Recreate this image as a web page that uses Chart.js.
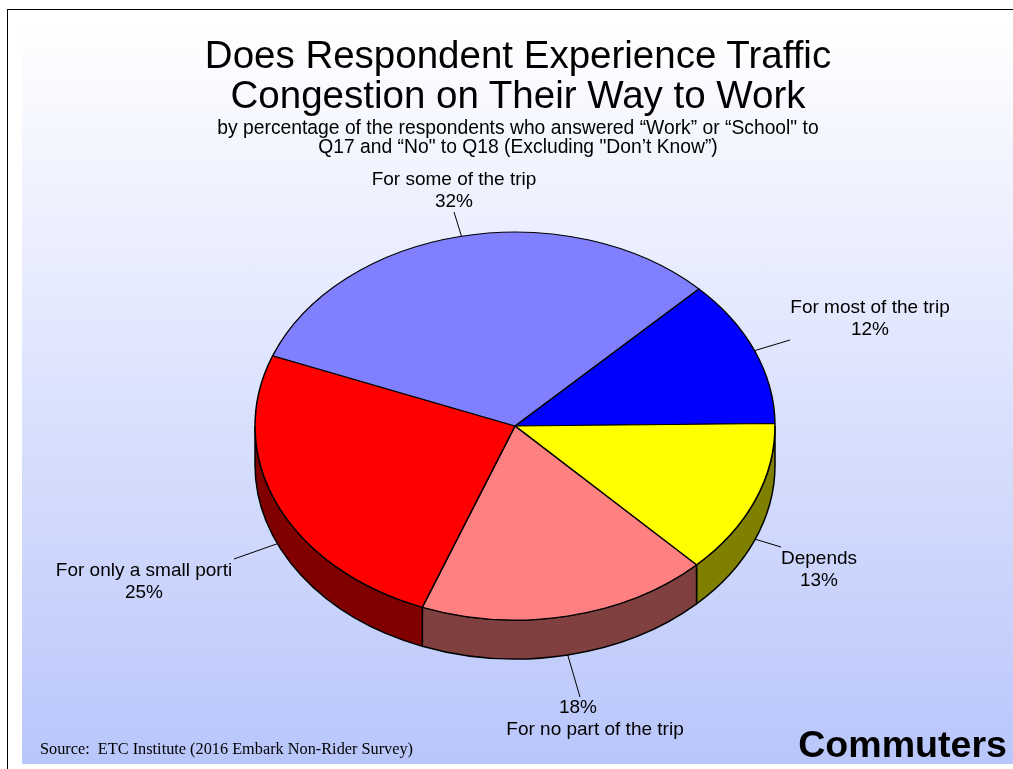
<!DOCTYPE html>
<html>
<head>
<meta charset="utf-8">
<script src="https://cdn.jsdelivr.net/npm/chart.js@4"></script>
<style>
  html, body { margin: 0; background: #fff; overflow: hidden; }
  body { width: 1013px; height: 769px; position: relative; font-family: "Liberation Sans", Arial, sans-serif; color: #000; }
  #frame { position: absolute; left: 7px; top: 9px; width: 1006px; height: 760px; border-left: 1px solid #000; border-top: 1px solid #000; box-sizing: border-box; }
  #bg { position: absolute; left: 22px; top: 25px; width: 991px; height: 739px; background: linear-gradient(#ffffff, #b9c6fb); }
  #chart { position: absolute; left: 0; top: 0; }
  .t { position: absolute; text-align: center; white-space: pre; }
  #title { left: 18px; width: 1000px; top: 35px; font-size: 38.5px; line-height: 40px; }
  #subtitle { left: 18px; width: 1000px; top: 118px; font-size: 19.3px; line-height: 19px; }
  #source { left: 40px; top: 740px; font-family: "Liberation Serif", serif; font-size: 16.3px; line-height: 18px; }
  #group { right: 6px; top: 722px; font-size: 37.6px; font-weight: bold; line-height: 44px; }
</style>
</head>
<body>
<div id="frame"></div>
<div id="bg"></div>
<canvas id="chart" width="1013" height="769"></canvas>
<div class="t" id="title"></div>
<div class="t" id="subtitle"></div>
<div class="t" id="source"></div>
<div class="t" id="group"></div>
<script>
const titleLines = ["Does Respondent Experience Traffic", "Congestion on Their Way to Work"];
const subtitleLines = ["by percentage of the respondents who answered “Work” or “School\" to", "Q17 and “No\" to Q18 (Excluding \"Don’t Know”)"];
const sourceText = "Source:  ETC Institute (2016 Embark Non-Rider Survey)";
const groupText = "Commuters";

const categories = ["For most of the trip", "Depends", "For no part of the trip", "For only a small porti", "For some of the trip"];
// read from the slice edges, labels show them rounded
const values = [12.3, 12.9, 18.1, 25.1, 31.6];
const sliceColors = ["#0000ff", "#ffff00", "#ff8080", "#ff0000", "#8080ff"];
const wallColors = ["#000080", "#808000", "#804040", "#800000", "#404080"];

// leader line end + where the two text lines sit
const labelStyle = [
  { end: [790, 340], x: 870, y: 308, percentFirst: false },
  { end: [781, 547], x: 819, y: 559, percentFirst: false },
  { end: [580, 697], x: 578, y: 708, xBottom: 595, percentFirst: true },
  { end: [234, 559], x: 144, y: 571, percentFirst: false },
  { end: [454, 212], x: 454, y: 180, percentFirst: false },
];

const squash = 0.746;
const depth = 39;

document.getElementById("title").innerHTML = titleLines.join("<br>");
document.getElementById("subtitle").innerHTML = subtitleLines.join("<br>");
document.getElementById("source").textContent = sourceText;
document.getElementById("group").textContent = groupText;

const tiltPie = {
  id: "tiltPie",
  beforeDatasetsDraw(chart) {
    const ctx = chart.ctx;
    const arcs = chart.getDatasetMeta(0).data;
    arcs.forEach((arc, i) => {
      const p = arc.getProps(["x", "y", "startAngle", "endAngle", "outerRadius"], true);
      // only the part of the rim facing the viewer
      const a0 = Math.max(norm(p.startAngle), 0);
      const a1 = Math.min(norm(p.startAngle) + (p.endAngle - p.startAngle), Math.PI);
      if (a1 <= a0) return;
      ctx.save();
      ctx.beginPath();
      ellipse(ctx, p.x, p.y, p.outerRadius, a0, a1, false);
      ellipse(ctx, p.x, p.y + depth, p.outerRadius, a1, a0, true);
      ctx.closePath();
      ctx.fillStyle = wallColors[i];
      ctx.fill();
      ctx.strokeStyle = "#000";
      ctx.lineWidth = 1.5;
      ctx.stroke();
      ctx.restore();
    });
    const first = arcs[0];
    ctx.save();
    ctx.translate(first.x, first.y);
    ctx.scale(1, squash);
    ctx.translate(-first.x, -first.y);
  },
  afterDatasetsDraw(chart) {
    const ctx = chart.ctx;
    ctx.restore();
    ctx.save();
    chart.getDatasetMeta(0).data.forEach((arc, i) => {
      const p = arc.getProps(["x", "y", "startAngle", "endAngle", "outerRadius"], true);
      const mid = (p.startAngle + p.endAngle) / 2;
      const sx = p.x + Math.cos(mid) * p.outerRadius;
      let sy = p.y + Math.sin(mid) * p.outerRadius * squash;
      if (Math.sin(mid) > 0) sy += depth;
      const st = labelStyle[i];
      ctx.beginPath();
      ctx.moveTo(sx, sy);
      ctx.lineTo(st.end[0], st.end[1]);
      ctx.strokeStyle = "#000";
      ctx.lineWidth = 1;
      ctx.stroke();

      const pct = Math.round(values[i]) + "%";
      const top = st.percentFirst ? pct : categories[i];
      const bottom = st.percentFirst ? categories[i] : pct;
      ctx.fillStyle = "#000";
      ctx.font = '19px "Liberation Sans", Arial, sans-serif';
      ctx.textAlign = "center";
      ctx.textBaseline = "middle";
      ctx.fillText(top, st.x, st.y);
      ctx.fillText(bottom, st.xBottom || st.x, st.y + 22);
    });
    ctx.restore();
  },
};

function norm(a) {
  let n = a % (2 * Math.PI);
  if (n > Math.PI) n -= 2 * Math.PI;
  return n;
}

function ellipse(ctx, x, y, r, a0, a1, ccw) {
  ctx.ellipse(x, y, r, r * squash, 0, a0, a1, ccw);
}

new Chart(document.getElementById("chart").getContext("2d"), {
  type: "pie",
  data: {
    labels: categories,
    datasets: [{
      data: values,
      backgroundColor: sliceColors,
      borderColor: "#000",
      borderWidth: 1.5,
      radius: 260,
    }],
  },
  options: {
    responsive: false,
    animation: false,
    events: [],
    rotation: 45,
    layout: { padding: { left: 17, top: 83 } },
    plugins: { legend: { display: false }, tooltip: { enabled: false } },
  },
  plugins: [tiltPie],
});
</script>
</body>
</html>
